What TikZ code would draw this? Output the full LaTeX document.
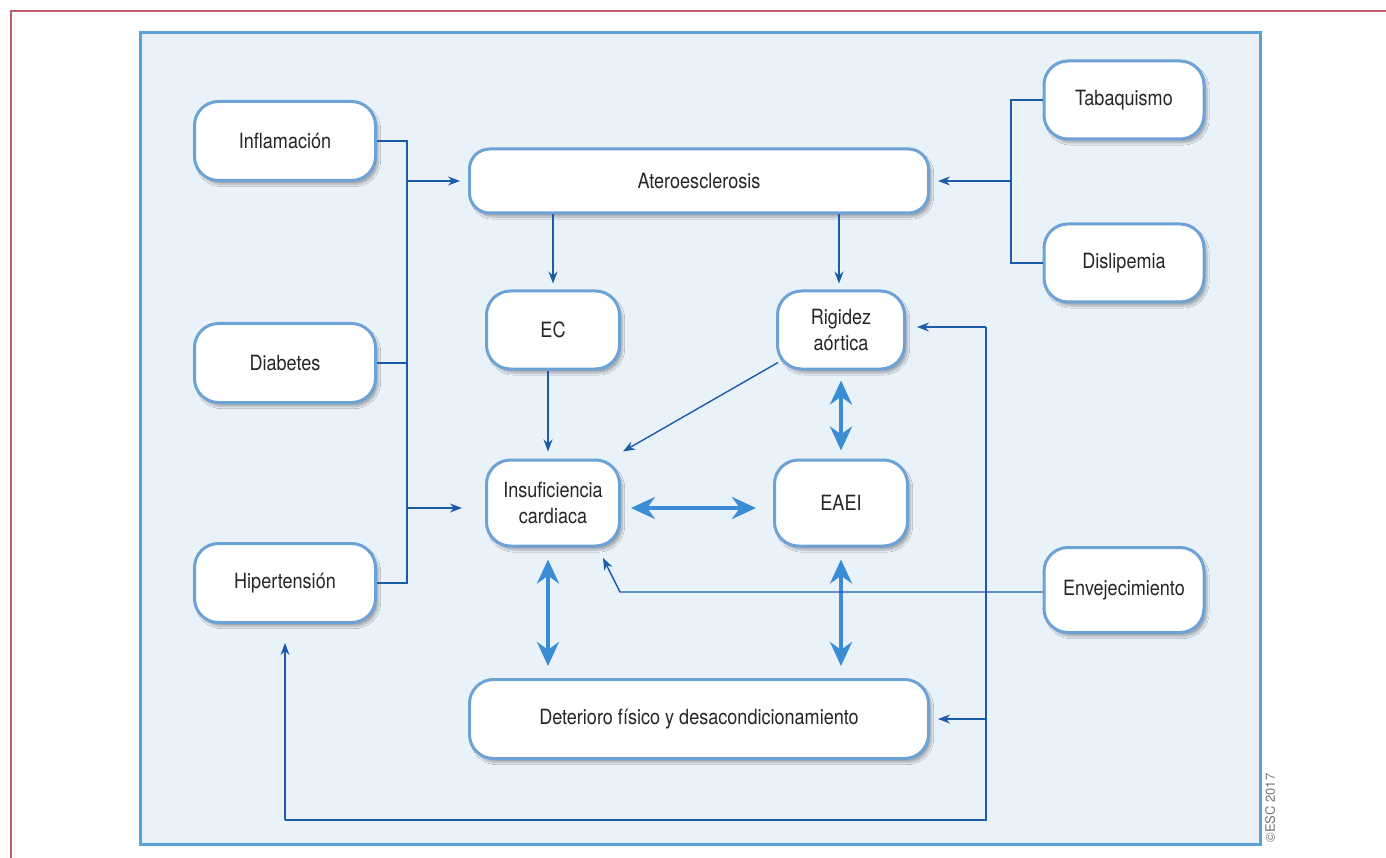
\documentclass[tikz,border=0pt]{standalone}
\usepackage{fontspec}
\setmainfont{TeX Gyre Heros}[FakeStretch=0.86]
\newfontfamily\plainsans{TeX Gyre Heros}
\usetikzlibrary{arrows.meta,shadows.blur}

\definecolor{framered}{HTML}{C0606E}
\definecolor{panelfill}{HTML}{E9F1F9}
\definecolor{panelline}{HTML}{5BA2D8}
\definecolor{boxline}{HTML}{6CA2D6}
\definecolor{darkarrow}{HTML}{1B5BAA}
\definecolor{lightarrow}{HTML}{3A8DD5}
\definecolor{txt}{HTML}{262626}

\tikzset{
  box/.style={draw=boxline, line width=3pt, fill=white, rounded corners=24pt,
    align=center, text=txt, inner sep=0pt,
    font=\fontsize{21}{26}\selectfont,
    blur shadow={shadow xshift=3pt, shadow yshift=-4pt, shadow blur steps=8, shadow opacity=30}},
  thinline/.style={draw=darkarrow, line width=1.4pt},
  thinarrow/.style={thinline, -{Stealth[length=12pt,width=9pt]}},
  bigarrow/.style={draw=lightarrow, line width=3.5pt,
    {Stealth[length=24pt,width=22pt]}-{Stealth[length=24pt,width=22pt]}},
}

\begin{document}
\begin{tikzpicture}[x=1pt,y=-1pt]
\useasboundingbox (0,0) rectangle (1386,858);

% outer frame and panel
\draw[framered, line width=2pt] (11,858) -- (11,11) -- (1386,11);
\draw[panelline, fill=panelfill, line width=3pt] (140,33) rectangle (1260,844);

% boxes
\node[box, minimum width=181pt, minimum height=79pt] (infl) at (285,141) {Inflamación};
\node[box, minimum width=181pt, minimum height=79pt] (diab) at (285,363) {Diabetes};
\node[box, minimum width=181pt, minimum height=79pt] (hyp)  at (285,583) {Hipertensión};
\node[box, minimum width=459pt, minimum height=64pt, rounded corners=20pt] (ath) at (699,181) {Ateroesclerosis};
\node[box, minimum width=160pt, minimum height=78pt] (tab) at (1124,100) {Tabaquismo};
\node[box, minimum width=160pt, minimum height=78pt] (dis) at (1124,263) {Dislipemia};
\node[box, minimum width=133pt, minimum height=78pt] (ec)  at (553,330) {EC};
\node[box, minimum width=127pt, minimum height=78pt] (rig) at (841,330) {Rigidez\\aórtica};
\node[box, minimum width=133pt, minimum height=86pt] (ins) at (553,503) {Insuficiencia\\cardiaca};
\node[box, minimum width=133pt, minimum height=86pt] (eaei) at (841,503) {EAEI};
\node[box, minimum width=160pt, minimum height=85pt] (env) at (1124,590) {Envejecimiento};
\node[box, minimum width=459pt, minimum height=79pt] (det) at (699,719) {Deterioro físico y desacondicionamiento};

% junction points of the collector lines
\coordinate (busL) at (407,0);
\coordinate (busR) at (1011,0);
\coordinate (loopTop) at (986,327);
\coordinate (loopBot) at (986,820);
\coordinate (loopL) at (285,820);
\coordinate (envBend) at (620,592);
\coordinate (envTip) at (603,558);

% risk factors on the left
\draw[thinline] (infl.east) -| (busL |- hyp.east) -- (hyp.east);
\draw[thinline] (diab.east) -- (busL |- diab.east);
\draw[thinarrow] (busL |- ath.west) -- ([xshift=-8pt]ath.west);
\draw[thinarrow] (busL |- 0,508) -- ([xshift=-23pt]ins.west |- 0,508);

% risk factors on the right
\draw[thinline] (tab.west) -| (busR |- dis.west) -- (dis.west);
\draw[thinarrow] (busR |- ath.east) -- ([xshift=8pt]ath.east);

% from atherosclerosis
\draw[thinarrow] (ec |- ath.south) -- ([yshift=6pt]ec.north);
\draw[thinarrow] (839,0 |- ath.south) -- ([yshift=6pt]rig.north -| 839,0);
\draw[thinarrow] (548,0 |- ec.south) -- ([yshift=7pt]ins.north -| 548,0);
\draw[thinarrow] ([shift={(2pt,8pt)}]rig.south west) -- ([shift={(2pt,7pt)}]ins.north east);

% two-way relations
\draw[bigarrow] ([yshift=-10pt]rig.south) -- ([yshift=8pt]eaei.north);
\draw[bigarrow] ([xshift=10pt]ins.east |- 0,508) -- ([xshift=-17pt]eaei.west |- 0,508);
\draw[bigarrow] ([yshift=-12pt]ins.south -| 548,0) -- ([yshift=12pt]det.north -| 548,0);
\draw[bigarrow] ([yshift=-12pt]eaei.south) -- ([yshift=12pt]det.north -| eaei.south);

% ageing
\draw[thinarrow] (env.west |- envBend) -- (envBend) -- (envTip);
\draw[thinline] (loopTop) -- (loopBot) -- (loopL);
\draw[thinarrow] (loopTop) -- ([xshift=11pt]rig.east |- loopTop);
\draw[thinarrow] (loopTop |- det.east) -- ([xshift=8pt]det.east);
\draw[thinarrow] (loopL) -- ([yshift=-19pt]hyp.south);

% copyright
\node[rotate=90, text=black!55, font=\plainsans\fontsize{13}{15}\selectfont] (copy) at (1270,808) {©ESC 2017};
\end{tikzpicture}
\end{document}
